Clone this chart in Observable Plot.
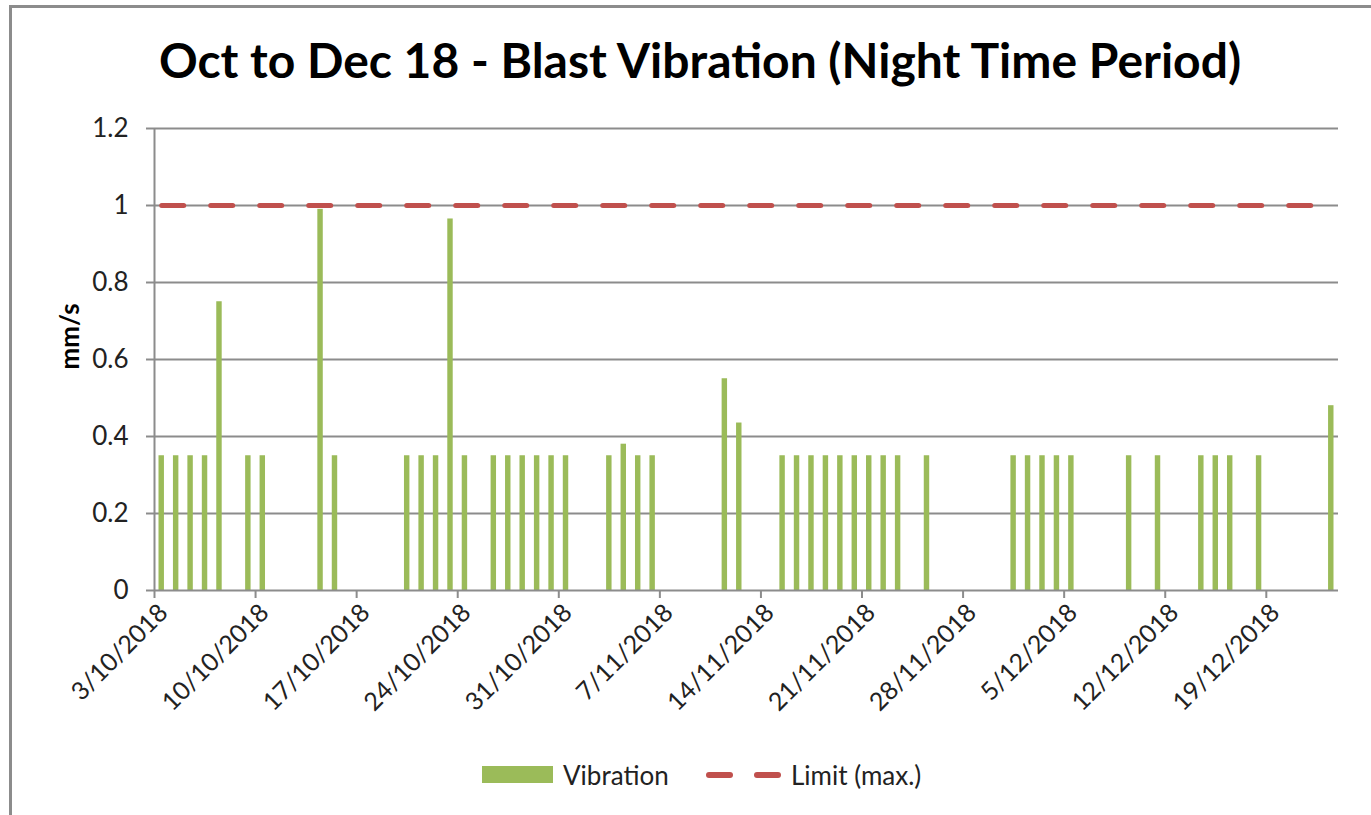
<!DOCTYPE html>
<html>
<head>
<meta charset="utf-8">
<script src="https://cdn.jsdelivr.net/npm/d3@7"></script>
<script src="https://cdn.jsdelivr.net/npm/@observablehq/plot@0.6"></script>
<style>
  html, body { margin: 0; padding: 0; background: #fff; }
  #page { position: relative; width: 1371px; height: 815px; overflow: hidden; background: #fff; font-family: Lato, "Open Sans", sans-serif; }
  #frame { position: absolute; left: 9px; top: 5px; width: 3000px; height: 3000px; border-left: 3px solid #8c8c8c; border-top: 3px solid #8c8c8c; box-sizing: border-box; }
  #title { position: absolute; left: 0; width: 1400px; top: 32px; text-align: center; font-weight: bold; font-size: 48px; line-height: 56px; color: #000; white-space: nowrap; }
  #chart { position: absolute; left: 0; top: 100px; }
  #legend { position: absolute; top: 760px; left: 0; height: 30px; width: 1371px; font-size: 26px; color: #222; }
  .sw { position: absolute; }
  .lt { position: absolute; top: 0; line-height: 30px; }
</style>
</head>
<body>
<div id="page">
  <div id="frame"></div>
  <div id="title">Oct to Dec 18 - Blast Vibration (Night Time Period)</div>
  <div id="chart"></div>
  <div id="legend">
    <div class="sw" style="left:482px; top:6px; width:71px; height:17px; background:#9BBB59;"></div>
    <div class="lt" style="left:563px;">Vibration</div>
    <div class="sw" style="left:706px; top:12px; width:27px; height:6px; border-radius:3px; background:#C0504D;"></div>
    <div class="sw" style="left:754px; top:12px; width:27px; height:6px; border-radius:3px; background:#C0504D;"></div>
    <div class="lt" style="left:791px;">Limit (max.)</div>
  </div>
</div>
<script>
// ---- data ----
const vibDates = [
  "2018-10-03","2018-10-04","2018-10-05","2018-10-06","2018-10-07","2018-10-09","2018-10-10",
  "2018-10-14","2018-10-15",
  "2018-10-20","2018-10-21","2018-10-22","2018-10-23","2018-10-24",
  "2018-10-26","2018-10-27","2018-10-28","2018-10-29","2018-10-30","2018-10-31",
  "2018-11-03","2018-11-04","2018-11-05","2018-11-06",
  "2018-11-11","2018-11-12",
  "2018-11-15","2018-11-16","2018-11-17","2018-11-18","2018-11-19","2018-11-20","2018-11-21","2018-11-22","2018-11-23",
  "2018-11-25",
  "2018-12-01","2018-12-02","2018-12-03","2018-12-04","2018-12-05",
  "2018-12-09","2018-12-11",
  "2018-12-14","2018-12-15","2018-12-16","2018-12-18",
  "2018-12-23"
];
const vibValues = [
  0.35,0.35,0.35,0.35,0.75,0.35,0.35,
  0.99,0.35,
  0.35,0.35,0.35,0.965,0.35,
  0.35,0.35,0.35,0.35,0.35,0.35,
  0.35,0.38,0.35,0.35,
  0.55,0.435,
  0.35,0.35,0.35,0.35,0.35,0.35,0.35,0.35,0.35,
  0.35,
  0.35,0.35,0.35,0.35,0.35,
  0.35,0.35,
  0.35,0.35,0.35,0.35,
  0.48
];
const limitDates = ["2018-10-03","2018-12-23"];
const limitValues = [1, 1];
const xTickDates = ["2018-10-03","2018-10-10","2018-10-17","2018-10-24","2018-10-31","2018-11-07",
  "2018-11-14","2018-11-21","2018-11-28","2018-12-05","2018-12-12","2018-12-19"];
const xDomain = ["2018-10-03","2018-12-24"];
const yTicks = [0, 0.2, 0.4, 0.6, 0.8, 1, 1.2];

// ---- build ----
const parse = d3.utcParse("%Y-%m-%d");
const vib = vibDates.map((d, i) => {
  const dt = parse(d);
  return {date: dt, next: d3.utcDay.offset(dt, 1), value: vibValues[i]};
});
const limit = limitDates.map((d, i) => ({mid: d3.utcHour.offset(parse(d), 12), value: limitValues[i]}));
const xTicks = xTickDates.map(parse);
const fmt = d3.utcFormat("%-d/%-m/%Y");
const grey = "#8c8c8c";

const chart = Plot.plot({
  width: 1371,
  height: 620,
  marginLeft: 154,
  marginRight: 33,
  marginTop: 28,
  marginBottom: 130,
  style: {fontFamily: "Lato, 'Open Sans', sans-serif", fontSize: "26px", color: "#222", background: "transparent"},
  x: {type: "utc", domain: xDomain.map(parse)},
  y: {domain: [0, 1.2]},
  marks: [
    Plot.gridY(yTicks.filter(d => d > 0), {stroke: grey, strokeOpacity: 1, strokeWidth: 2}),
    Plot.rectY(vib, {x1: "date", x2: "next", y: "value", fill: "#9BBB59", insetLeft: 4.5, insetRight: 4.5}),
    Plot.lineY(limit, {x: "mid", y: "value", stroke: "#C0504D", strokeWidth: 5, strokeDasharray: "22 27", strokeLinecap: "round"}),
    Plot.ruleY([0], {stroke: grey, strokeWidth: 2}),
    Plot.ruleX([parse(xDomain[0])], {y1: 0, y2: 1.2, stroke: grey, strokeWidth: 2}),
    Plot.axisY(yTicks, {tickSize: 8, tickPadding: 18, tickFormat: d => String(d), stroke: grey, strokeWidth: 2, fill: "#222", fontSize: 26, label: null}),
    Plot.axisX(xTicks, {tickSize: 8, tickFormat: () => "", stroke: grey, strokeWidth: 2, label: null}),
    Plot.axisX(xTicks, {tickSize: 0, tickPadding: 12, tickRotate: -45, dx: 9, dy: 6, tickFormat: fmt, fill: "#222", fontSize: 25, label: null}),
    Plot.text(["mm/s"], {frameAnchor: "left", dx: -84, dy: 10, rotate: -90, fontWeight: "bold", fontSize: 26, fill: "#000"})
  ]
});
document.getElementById("chart").appendChild(chart);
</script>
</body>
</html>
